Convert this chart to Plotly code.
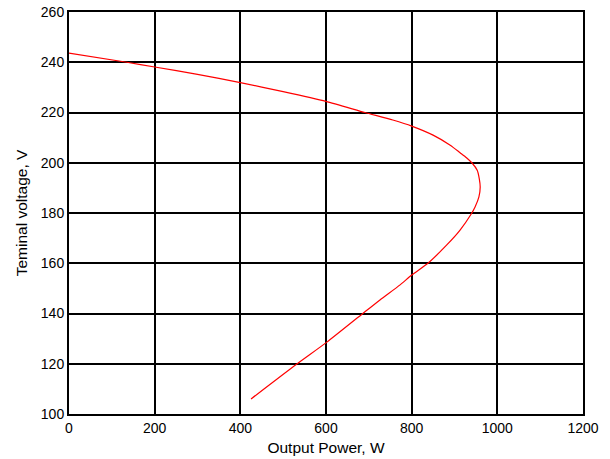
import plotly.graph_objects as go

power_w = [0, 135, 200, 300, 400, 500, 600, 691, 756, 800, 850, 890, 913, 928, 941, 953, 958, 960,
           957, 948, 939, 913, 882, 838, 800, 773, 726, 686, 602, 532, 425]
voltage_v = [243.6, 240, 238.1, 235.2, 231.9, 228.3, 224.4, 220, 217, 214.6, 211, 207, 204,
             202, 199.9, 197, 193.5, 190.3, 186.4, 182.4, 179.6, 173.2, 167.3, 160, 155.3, 151.4,
             145.4, 140, 128.6, 119.9, 106]

x_ticks = [0, 200, 400, 600, 800, 1000, 1200]
y_ticks = [100, 120, 140, 160, 180, 200, 220, 240, 260]

fig = go.Figure()
fig.add_trace(go.Scatter(x=power_w, y=voltage_v, mode="lines", line_shape="spline",
                         line=dict(color="#ff0000", width=1.2, smoothing=0.6), showlegend=False))

font = dict(family="Liberation Sans, Arial, sans-serif", size=14, color="black")
fig.update_layout(
    width=610, height=459,
    margin=dict(l=69, r=27, t=12, b=45),
    paper_bgcolor="white", plot_bgcolor="white",
    font=font,
    xaxis=dict(range=[0, 1200], tickvals=x_ticks, showgrid=True, gridcolor="black",
               gridwidth=2, showline=True, linecolor="black", linewidth=2, mirror=True,
               zeroline=False, ticks="", tickfont=dict(size=14), automargin=False,
               title=dict(text="Output Power, W", font=dict(size=15.5), standoff=7)),
    yaxis=dict(range=[100, 260], tickvals=y_ticks, showgrid=True, gridcolor="black",
               gridwidth=2, showline=True, linecolor="black", linewidth=2, mirror=True,
               zeroline=False, ticks="", tickfont=dict(size=14), automargin=False,
               title=dict(text="Teminal voltage, V", font=dict(size=15.5), standoff=9)),
)
fig.write_html("out.html")
